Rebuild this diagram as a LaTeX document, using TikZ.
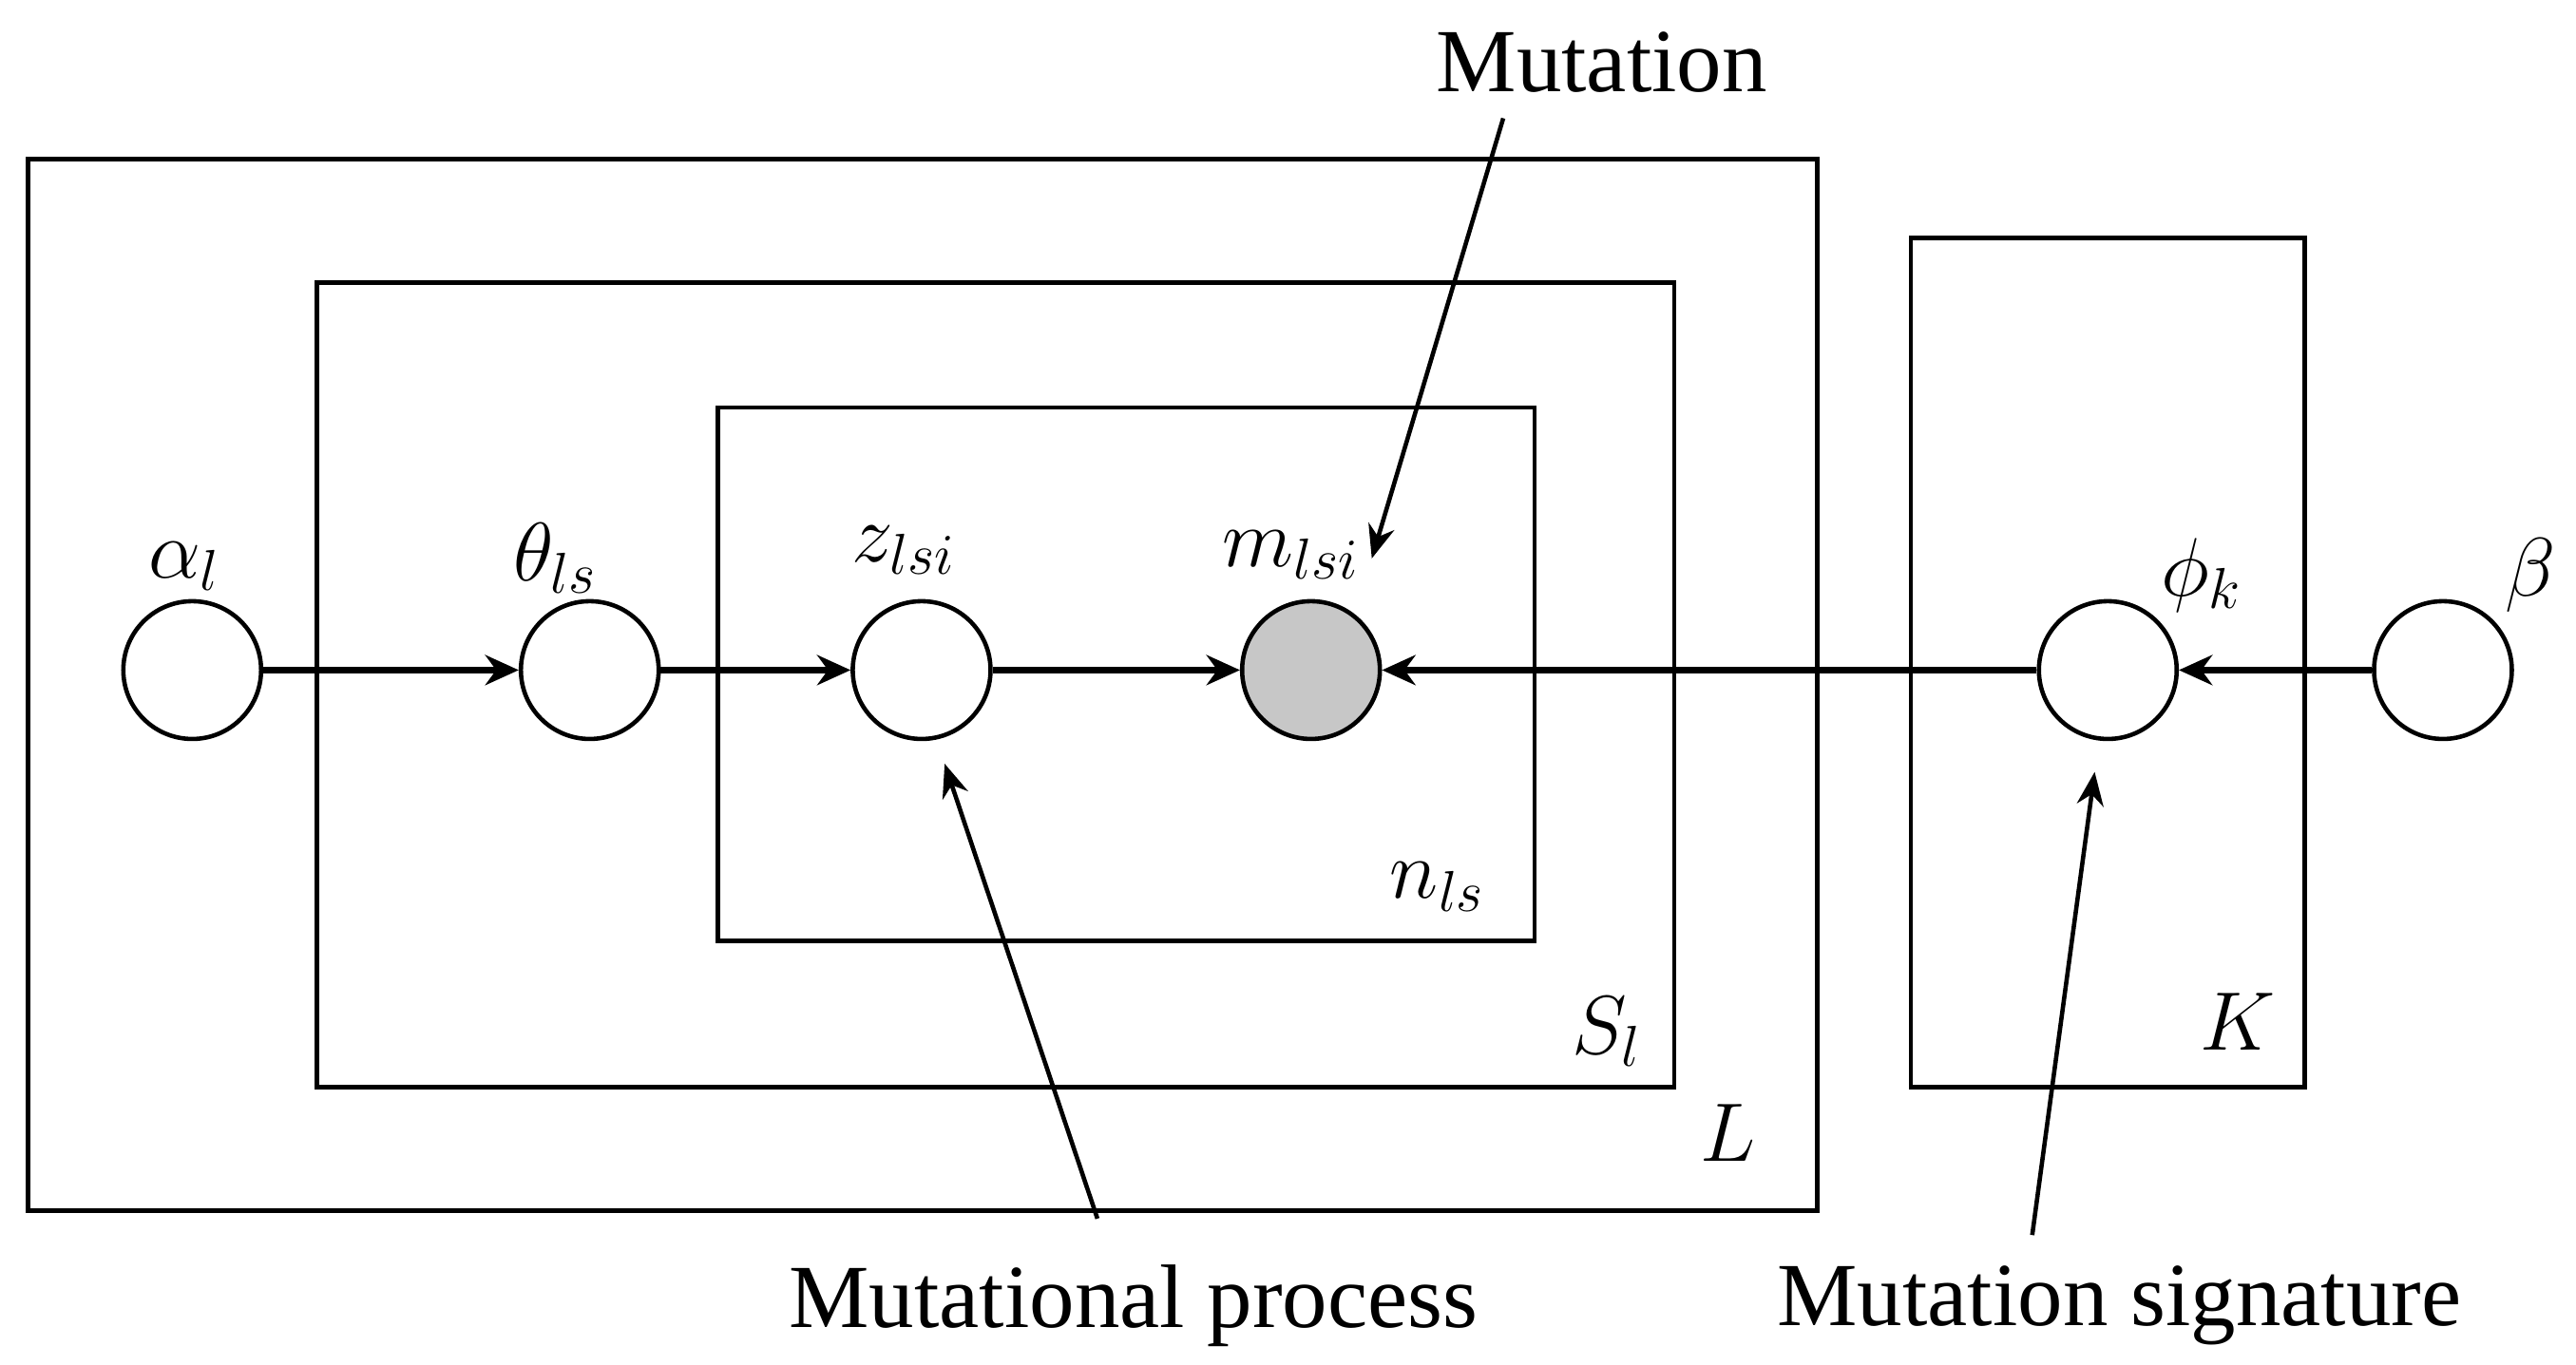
\documentclass[tikz,border=0pt]{standalone}
\usepackage{fontspec}
\setmainfont{Liberation Serif}
\DeclareMathSizes{24.88}{24.88}{16}{12}
\usetikzlibrary{arrows.meta}
\begin{document}
\begin{tikzpicture}[
        x=0.01729cm, y=-0.01729cm,
        plate/.style={draw=black, line width=1.3pt},
        var/.style={circle, draw=black, line width=1.3pt, minimum size=1.45cm, fill=white},
        obs/.style={var, fill=black!22},
        lab/.style={font=\Huge},
        txt/.style={font=\fontsize{27}{30}\selectfont},
        arrow/.style={line width=2pt, -{Stealth[length=10pt, width=9pt]}},
        note/.style={line width=1.3pt, -{Stealth[length=10pt, width=8pt]}}
        ]
        \useasboundingbox (0,0) rectangle (1568,831);

        % plates
        \draw [plate] (17,97) rectangle (1106,737);
        \draw [plate] (193,172) rectangle (1019,662);
        \draw [plate] (437,248) rectangle (934,573);
        \draw [plate] (1163,145) rectangle (1403,662);
        \node [lab] (L) at (1052,690) {$L$};
        \node [lab] (S) at (978,628) {$S_l$};
        \node [lab] (n) at (875,540) {$n_{ls}$};
        \node [lab] (K) at (1362,622) {$K$};

        % variables
        \node (alpha) [var] at (117,408) {};
        \node (theta) [var] at (359,408) {};
        \node (z) [var] at (561,408) {};
        \node (m) [obs] at (798,408) {};
        \node (phi) [var] at (1283,408) {};
        \node (beta) [var] at (1487,408) {};
        \node [lab] at (112,345) {$\alpha_l$};
        \node [lab] at (338,340) {$\theta_{ls}$};
        \node [lab] at (550,335) {$z_{lsi}$};
        \node [lab] at (786,338) {$m_{lsi}$};
        \node [lab] at (1340,350) {$\phi_k$};
        \node [lab] at (1540,350) {$\beta$};

        \draw [arrow] (alpha) -- (theta);
        \draw [arrow] (theta) -- (z);
        \draw [arrow] (z) -- (m);
        \draw [arrow] (phi) -- (m);
        \draw [arrow] (beta) -- (phi);

        % annotations
        \node (mut) [txt] at (975,38) {Mutation};
        \node (proc) [txt] at (690,795) {Mutational process};
        \node (sig) [txt] at (1290,795) {Mutation signature};
        \coordinate (mtip) at (835,340);
        \coordinate (ztip) at (575,465);
        \coordinate (ptip) at (1275,470);
        \draw [note] (915,72) -- (mtip);
        \draw [note] (668,742) -- (ztip);
        \draw [note] (1237,752) -- (ptip);
\end{tikzpicture}
\end{document}
